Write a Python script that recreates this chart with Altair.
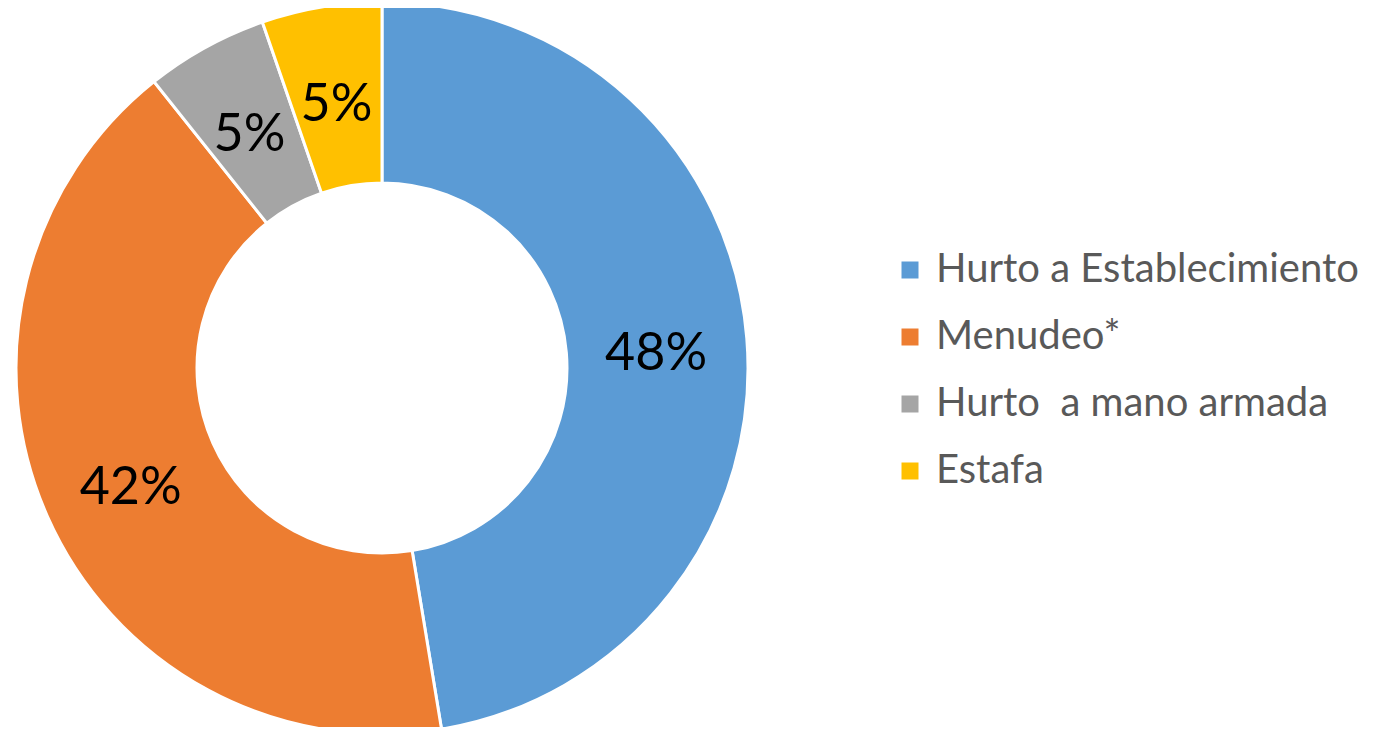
import altair as alt
import pandas as pd

categories = ["Hurto a Establecimiento", "Menudeo*", "Hurto\u00a0 a mano armada", "Estafa"]
values = [47.4, 41.9, 5.4, 5.3]
labels = ["48%", "42%", "5%", "5%"]
colors = ["#5B9BD5", "#ED7D31", "#A5A5A5", "#FFC000"]

df = pd.DataFrame({
    "category": categories,
    "value": values,
    "label": labels,
    "order": list(range(len(categories))),
})

CX, CY = 374, 360

base = alt.Chart(df).encode(
    theta=alt.Theta("value:Q", stack=True),
    order=alt.Order("order:Q"),
)

arc = base.mark_arc(outerRadius=366, innerRadius=185, stroke="white", strokeWidth=3).encode(
    color=alt.Color(
        "category:N",
        scale=alt.Scale(domain=categories, range=colors),
        sort=categories,
        legend=alt.Legend(
            title=None,
            orient="none",
            legendX=882,
            legendY=242,
            labelFont="Lato",
            labelFontSize=40,
            labelColor="#595959",
            symbolType="square",
            symbolSize=289,
            symbolStrokeWidth=0,
            rowPadding=27,
            labelOffset=6,
            labelLimit=600,
        ),
    ),
    x=alt.value(CX),
    y=alt.value(CY),
)

text = base.mark_text(radius=275, fontSize=52, font="Lato", color="black", baseline="middle", dy=8).encode(
    text="label:N",
    x=alt.value(CX),
    y=alt.value(CY),
)

chart = (arc + text).properties(
    width=1360, height=719, padding=0,
    autosize=alt.AutoSizeParams(type="none"),
).configure_view(stroke=None)

chart.save("out.html", embed_options={"renderer": "svg", "actions": False})
